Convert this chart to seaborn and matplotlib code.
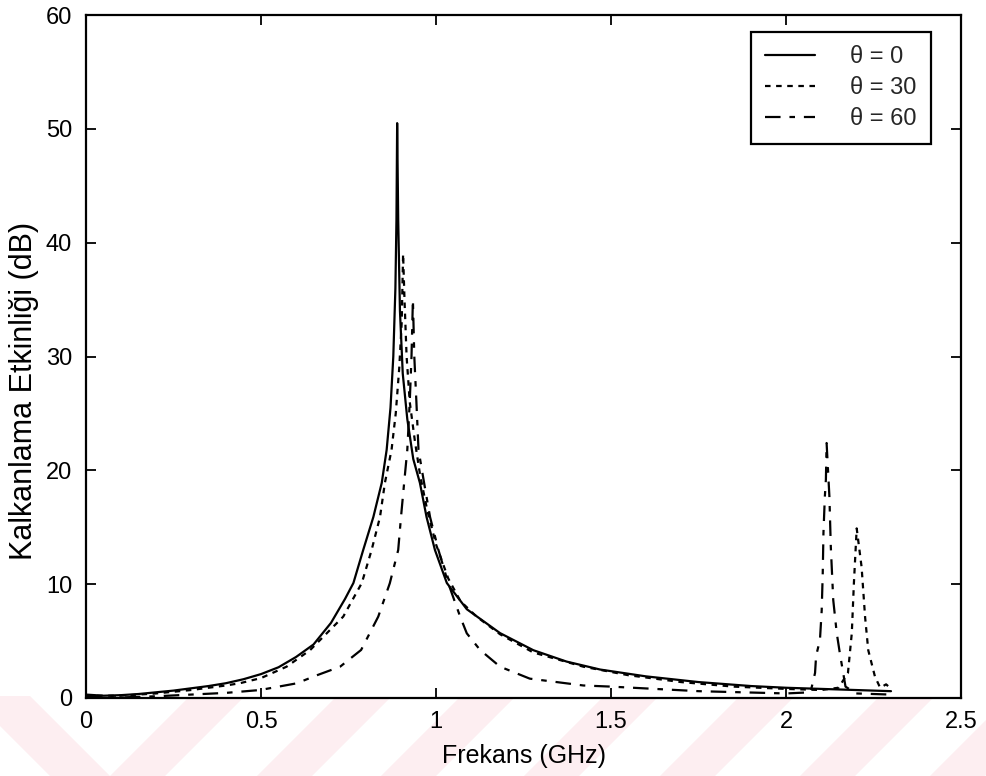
import matplotlib
matplotlib.use("Agg")
import matplotlib.pyplot as plt
import seaborn as sns
import pandas as pd
from matplotlib.patches import Polygon

# Shielding effectiveness vs frequency for three incidence angles
freq_0 = [0.0, 0.05, 0.10, 0.15, 0.20, 0.25, 0.30, 0.35, 0.40, 0.45, 0.50, 0.55,
          0.60, 0.65, 0.70, 0.74, 0.764, 0.792, 0.821, 0.845, 0.859, 0.870, 0.878,
          0.884, 0.887, 0.889, 0.892, 0.897, 0.905, 0.918, 0.935, 0.954, 0.973,
          0.997, 1.031, 1.088, 1.183, 1.278, 1.373, 1.469, 1.60, 1.75, 1.90, 2.00,
          2.10, 2.20, 2.30]
se_0 = [0.3, 0.2, 0.25, 0.35, 0.5, 0.65, 0.85, 1.05, 1.3, 1.65, 2.1, 2.7,
        3.6, 4.7, 6.6, 8.7, 10.1, 13.0, 15.9, 18.9, 21.8, 25.5, 30.0,
        36.0, 42.0, 50.5, 42.0, 34.0, 28.5, 24.5, 21.0, 18.9, 15.9,
        13.0, 10.1, 7.8, 5.7, 4.2, 3.2, 2.5, 1.9, 1.4, 1.05, 0.9,
        0.8, 0.7, 0.6]

freq_30 = [0.0, 0.10, 0.20, 0.30, 0.40, 0.44, 0.50, 0.573, 0.64, 0.735, 0.788,
           0.816, 0.840, 0.854, 0.873, 0.885, 0.895, 0.902, 0.906, 0.910, 0.916,
           0.925, 0.940, 0.955, 0.975, 1.00, 1.035, 1.07, 1.116, 1.183, 1.278,
           1.421, 1.55, 1.70, 1.85, 2.00, 2.10, 2.15, 2.177, 2.188, 2.194, 2.202,
           2.216, 2.226, 2.235, 2.254, 2.269, 2.286, 2.297]
se_30 = [0.2, 0.2, 0.4, 0.7, 1.1, 1.3, 1.75, 2.75, 4.2, 7.15, 10.1,
         13.0, 15.9, 18.9, 21.8, 25.0, 29.0, 33.0, 39.0, 35.0, 30.0,
         26.0, 22.5, 19.5, 16.5, 13.5, 10.5, 8.5, 7.15, 5.6, 4.0,
         2.75, 2.0, 1.4, 1.0, 0.8, 0.7, 0.9, 2.2, 5.7, 10.1, 14.9,
         11.5, 7.1, 4.2, 1.9, 0.9, 1.2, 0.9]

freq_60 = [0.0, 0.10, 0.20, 0.30, 0.40, 0.497, 0.602, 0.66, 0.726, 0.786, 0.835,
           0.868, 0.892, 0.900, 0.909, 0.918, 0.925, 0.930, 0.934, 0.938, 0.944,
           0.950, 0.966, 0.983, 1.007, 1.035, 1.069, 1.088, 1.126, 1.183, 1.268,
           1.421, 1.50, 1.75, 2.00, 2.07, 2.083, 2.086, 2.097, 2.102, 2.105, 2.107,
           2.111, 2.114, 2.116, 2.124, 2.128, 2.135, 2.145, 2.154, 2.17, 2.20, 2.30]
se_60 = [0.1, 0.05, 0.15, 0.3, 0.45, 0.7, 1.29, 2.0, 2.75, 4.22, 7.15,
         10.08, 13.0, 15.9, 18.9, 21.8, 26.0, 30.0, 35.0, 30.0, 26.0,
         21.8, 18.9, 15.9, 13.0, 10.08, 7.15, 5.68, 4.22, 2.75, 1.7,
         1.1, 1.0, 0.6, 0.4, 0.5, 2.2, 3.7, 5.1, 7.7, 11.0, 14.5,
         17.7, 19.2, 22.4, 17.7, 13.3, 8.6, 5.7, 3.9, 1.0, 0.4, 0.3]

legend_labels = ["θ = 0", "θ = 30", "θ = 60"]
x_ticks = [0, 0.5, 1, 1.5, 2, 2.5]
x_tick_labels = ["0", "0.5", "1", "1.5", "2", "2.5"]
y_ticks = [0, 10, 20, 30, 40, 50, 60]

frames = []
for f, s, lab in zip([freq_0, freq_30, freq_60], [se_0, se_30, se_60], legend_labels):
    frames.append(pd.DataFrame({"f": f, "se": s, "angle": lab}))
df = pd.concat(frames, ignore_index=True)

sns.set_theme(style="ticks")
plt.rcParams["font.family"] = ["Liberation Sans", "DejaVu Sans"]

W, H = 986, 776
fig = plt.figure(figsize=(W / 100, H / 100), dpi=100)
fig.patch.set_facecolor("white")

# faint diagonal band pattern along the bottom edge, behind everything
band_color = "#fdeef1"
def px(x, y):
    return (x / W, 1 - y / H)
stripes = []
for x0 in [110, 257, 381, 524, 660, 800, 930]:
    stripes.append([px(x0, 776), px(x0 + 55, 776), px(x0 + 55 + 80, 696), px(x0 + 80, 696)])
stripes.append([px(-30, 696), px(30, 696), px(110, 776), px(50, 776)])
for poly in stripes:
    fig.patches.append(Polygon(poly, closed=True, transform=fig.transFigure,
                               facecolor=band_color, edgecolor="none", zorder=-5))

ax = fig.add_axes([86 / W, 1 - 698 / H, 875 / W, (698 - 15) / H])
ax.set_facecolor("white")

styles = {"θ = 0": "", "θ = 30": (2.5, 2.5), "θ = 60": (7, 4, 2.5, 4)}
sns.lineplot(data=df, x="f", y="se", hue="angle", style="angle",
             palette=["black"] * 3, dashes=styles, linewidth=1.6,
             sort=False, estimator=None, ax=ax, legend=True)

ax.set_xlim(0, 2.5)
ax.set_ylim(0, 60)
ax.set_xticks(x_ticks)
ax.set_xticklabels(x_tick_labels)
ax.set_yticks(y_ticks)
ax.tick_params(direction="in", length=7, width=1.3, top=True, right=True,
               labelsize=17, colors="black")
ax.tick_params(axis="x", pad=9)
ax.tick_params(axis="y", pad=10)
for sp in ax.spines.values():
    sp.set_visible(True)
    sp.set_linewidth(1.6)
    sp.set_color("black")

ax.set_xlabel("Frekans (GHz)", fontsize=18, labelpad=8, color="black")
ax.set_ylabel("Kalkanlama Etkinliği (dB)", fontsize=22, color="black",
              va="center")
ax.yaxis.set_label_coords(-0.071, 0.45)

handles, labels = ax.get_legend_handles_labels()
leg = ax.legend(handles, labels, loc="upper right",
                bbox_to_anchor=(931 / W, 1 - 32 / H), bbox_transform=fig.transFigure,
                frameon=True, fancybox=False, shadow=False, framealpha=1,
                edgecolor="black", fontsize=17, handlelength=2.1,
                handletextpad=1.5, labelspacing=0.38, borderpad=0.6,
                borderaxespad=0)
leg.get_frame().set_linewidth(1.6)
for line in leg.get_lines():
    line.set_linewidth(1.6)

fig.savefig("out.png", dpi=100, facecolor="white")
